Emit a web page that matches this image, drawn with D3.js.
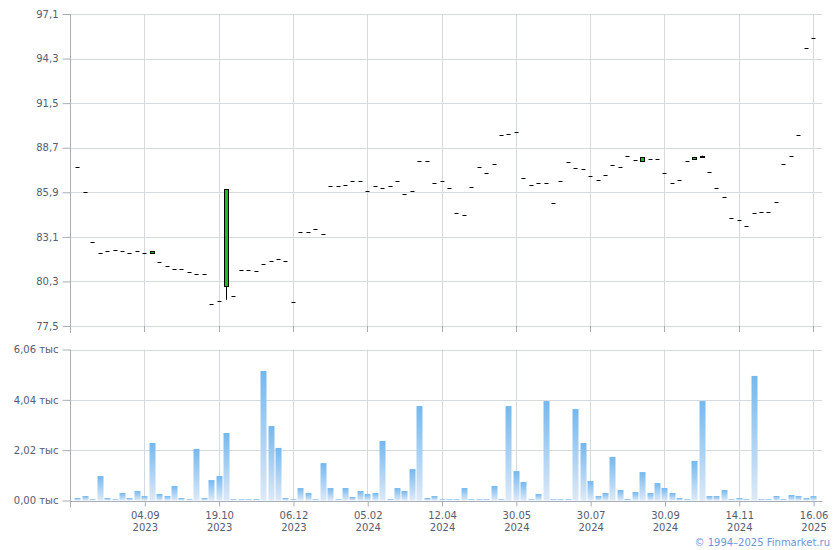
<!DOCTYPE html>
<html>
<head>
<meta charset="utf-8">
<script src="https://cdn.jsdelivr.net/npm/d3@7"></script>
<style>
  html, body { margin: 0; padding: 0; background: #ffffff; }
  svg { display: block; font-family: "DejaVu Sans", Verdana, sans-serif; }
</style>
</head>
<body>
<svg id="chart" width="840" height="550"></svg>
<script>
// ---- DATA ----
// closing prices for each trading session (index = session number)
const closePrice = [
  87.47, 85.90, 82.76, 82.07, 82.19, 82.26, 82.19, 82.07, 82.19, 82.07,
  82.19, 81.50, 81.25, 81.08, 81.08, 80.87, 80.75, 80.75, 78.86, 79.05,
  86.09, 79.38, 81.00, 81.00, 80.94, 81.38, 81.56, 81.71, 81.56, 78.99,
  83.39, 83.39, 83.57, 83.26, 86.28, 86.28, 86.36, 86.59, 86.59, 85.96,
  86.28, 86.15, 86.28, 86.59, 85.77, 85.96, 87.85, 87.85, 86.46, 86.61,
  86.15, 84.58, 84.45, 86.21, 87.47, 87.09, 87.66, 89.48, 89.54, 89.67,
  86.78, 86.34, 86.46, 86.46, 85.21, 86.61, 87.78, 87.41, 87.34, 86.90,
  86.65, 86.97, 87.59, 87.47, 88.16, 87.91, 88.10, 87.97, 87.97, 87.09,
  86.46, 86.65, 87.85, 88.12, 88.14, 87.16, 86.15, 85.58, 84.27, 84.14,
  83.76, 84.58, 84.64, 84.64, 85.27, 87.66, 88.16, 89.48, 94.95, 95.57
];
// sessions where open / high / low differ from the close
const candleIdx  = [10, 20, 76, 83, 84];
const candleOpen = [82.07, 79.99, 87.85, 87.97, 88.20];
const candleHigh = [82.19, 86.09, 88.10, 88.12, 88.20];
const candleLow  = [82.07, 79.15, 87.85, 87.97, 88.14];

// traded volume per session
const volume = [
  100, 180, 50, 980, 100, 50, 300, 100, 380, 180,
  2310, 260, 180, 580, 100, 50, 2070, 100, 820, 980,
  2710, 50, 50, 50, 60, 5200, 2990, 2110, 100, 50,
  500, 300, 50, 1500, 500, 50, 500, 140, 380, 260,
  300, 2390, 60, 500, 380, 1260, 3790, 100, 180, 50,
  50, 50, 500, 50, 50, 50, 580, 50, 3790, 1180,
  740, 50, 260, 3990, 50, 50, 50, 3670, 2310, 780,
  180, 300, 1750, 420, 60, 340, 1140, 300, 700, 500,
  300, 100, 50, 1590, 3990, 180, 180, 420, 50, 100,
  50, 5000, 50, 50, 180, 50, 220, 180, 100, 180
];

const priceTicks = [77.5, 80.3, 83.1, 85.9, 88.7, 91.5, 94.3, 97.1];
const volumeTicks = [0, 2020, 4040, 6060];
const tickSession = [9, 19, 29, 39, 49, 59, 69, 79, 89, 99];
const tickDay  = ["04.09", "19.10", "06.12", "05.02", "12.04", "30.05", "30.07", "30.09", "14.11", "16.06"];
const tickYear = ["2023", "2023", "2023", "2024", "2024", "2024", "2024", "2024", "2024", "2025"];

// ---- LAYOUT ----
const left = 70, right = 822;
const pTop = 14, pBottom = 326;
const vTop = 349.5, vBottom = 500.5;
const gridColor = "#d5dade";
const axisColor = "#a9adb7";
const labelColor = "#555d70";

const svg = d3.select("#chart");

const x = d3.scaleLinear().domain([-1, 100.2]).range([left, right]);
const yP = d3.scaleLinear().domain([77.5, 97.1]).range([pBottom, pTop]);
const yV = d3.scaleLinear().domain([0, 6060]).range([vBottom, vTop]);

const fmtComma = (v, d) => v.toFixed(d).replace(".", ",");

// gradient for volume bars
const defs = svg.append("defs");
const grad = defs.append("linearGradient").attr("id", "volGrad")
  .attr("x1", 0).attr("y1", 0).attr("x2", 0).attr("y2", 1);
grad.append("stop").attr("offset", "0%").attr("stop-color", "#74b8ef");
grad.append("stop").attr("offset", "100%").attr("stop-color", "#dde9f8");

// ---- PRICE PANEL ----
const gP = svg.append("g");
gP.selectAll("line.hg").data(priceTicks).join("line")
  .attr("x1", left).attr("x2", right)
  .attr("y1", d => Math.round(yP(d)) + 0.5).attr("y2", d => Math.round(yP(d)) + 0.5)
  .attr("stroke", gridColor);
gP.selectAll("line.vg").data(tickSession).join("line")
  .attr("x1", d => Math.round(x(d)) + 0.5).attr("x2", d => Math.round(x(d)) + 0.5)
  .attr("y1", pTop).attr("y2", pBottom)
  .attr("stroke", gridColor);
gP.selectAll("line.bt").data(tickSession).join("line")
  .attr("x1", d => Math.round(x(d)) + 0.5).attr("x2", d => Math.round(x(d)) + 0.5)
  .attr("y1", pBottom).attr("y2", pBottom + 6)
  .attr("stroke", axisColor);
const axP = d3.axisLeft(yP).tickValues(priceTicks).tickSize(8).tickPadding(4)
  .tickFormat(d => fmtComma(d, 1));
const gAxP = svg.append("g").attr("transform", `translate(${left + 0.5},0)`).call(axP);
gAxP.select(".domain").attr("d", `M0,${pTop}V${pBottom + 7}`).attr("stroke", axisColor);
gAxP.selectAll(".tick line").attr("stroke", axisColor);
gAxP.selectAll(".tick text").attr("fill", labelColor).attr("font-size", 10)
  .attr("font-family", "DejaVu Sans, sans-serif");

// candles
const candleMap = new Map(candleIdx.map((i, k) => [i, k]));
const sessions = d3.range(closePrice.length);
const gC = svg.append("g");
sessions.forEach(i => {
  const cx = Math.round(x(i));
  const c = closePrice[i];
  if (candleMap.has(i)) {
    const k = candleMap.get(i);
    const o = candleOpen[k], h = candleHigh[k], l = candleLow[k];
    const up = c >= o;
    gC.append("line")
      .attr("x1", cx + 0.5).attr("x2", cx + 0.5)
      .attr("y1", yP(h)).attr("y2", yP(l))
      .attr("stroke", "#000");
    const yTop = Math.round(yP(Math.max(o, c)));
    const yBot = Math.round(yP(Math.min(o, c)));
    gC.append("rect")
      .attr("x", cx - 1.5).attr("y", yTop + 0.5)
      .attr("width", 4).attr("height", Math.max(1, yBot - yTop))
      .attr("fill", up ? "#1cbd1c" : "#000")
      .attr("stroke", "#000").attr("stroke-width", 1);
  } else {
    gC.append("rect")
      .attr("x", cx - 1.5).attr("y", Math.round(yP(c)))
      .attr("width", 4).attr("height", 1)
      .attr("fill", "#000");
  }
});

// ---- VOLUME PANEL ----
const gV = svg.append("g");
gV.selectAll("line.hg").data(volumeTicks.filter(d => d > 0)).join("line")
  .attr("x1", left).attr("x2", right)
  .attr("y1", d => Math.round(yV(d)) + 0.5).attr("y2", d => Math.round(yV(d)) + 0.5)
  .attr("stroke", gridColor);
gV.selectAll("line.vg").data(tickSession).join("line")
  .attr("x1", d => Math.round(x(d)) + 0.5).attr("x2", d => Math.round(x(d)) + 0.5)
  .attr("y1", vTop).attr("y2", vBottom)
  .attr("stroke", gridColor);

gV.selectAll("rect.bar").data(volume).join("rect")
  .attr("x", (d, i) => Math.round(x(i)) - 2.5)
  .attr("width", 6)
  .attr("y", d => yV(d))
  .attr("height", d => vBottom - yV(d))
  .attr("fill", "url(#volGrad)");

const axV = d3.axisLeft(yV).tickValues(volumeTicks).tickSize(8).tickPadding(4)
  .tickFormat(d => fmtComma(d / 1000, 2) + " тыс");
const gAxV = svg.append("g").attr("transform", `translate(${left + 0.5},0)`).call(axV);
gAxV.select(".domain").attr("d", `M0,${vTop}V${vBottom + 7}`).attr("stroke", axisColor);
gAxV.selectAll(".tick line").attr("stroke", axisColor);
gAxV.selectAll(".tick text").attr("fill", labelColor).attr("font-size", 10)
  .attr("font-family", "DejaVu Sans, sans-serif");

const axX = d3.axisBottom(x).tickValues(tickSession).tickSize(5).tickFormat("");
const gAxX = svg.append("g").attr("transform", `translate(0.5,${Math.round(vBottom) + 0.5})`).call(axX);
gAxX.select(".domain").attr("d", `M${left},0H${right}`).attr("stroke", axisColor);
gAxX.selectAll(".tick line").attr("stroke", axisColor);
gAxX.selectAll(".tick").each(function(d, k) {
  const t = d3.select(this);
  t.append("text").attr("y", 17).attr("text-anchor", "middle")
    .attr("fill", labelColor).attr("font-size", 10).attr("font-family", "DejaVu Sans, sans-serif")
    .text(tickDay[k]);
  t.append("text").attr("y", 29).attr("text-anchor", "middle")
    .attr("fill", labelColor).attr("font-size", 10).attr("font-family", "DejaVu Sans, sans-serif")
    .text(tickYear[k]);
});

svg.append("text")
  .attr("x", 830).attr("y", 546).attr("text-anchor", "end")
  .attr("fill", "#6f95dc").attr("font-size", 10)
  .text("© 1994–2025 Finmarket.ru");
</script>
</body>
</html>
